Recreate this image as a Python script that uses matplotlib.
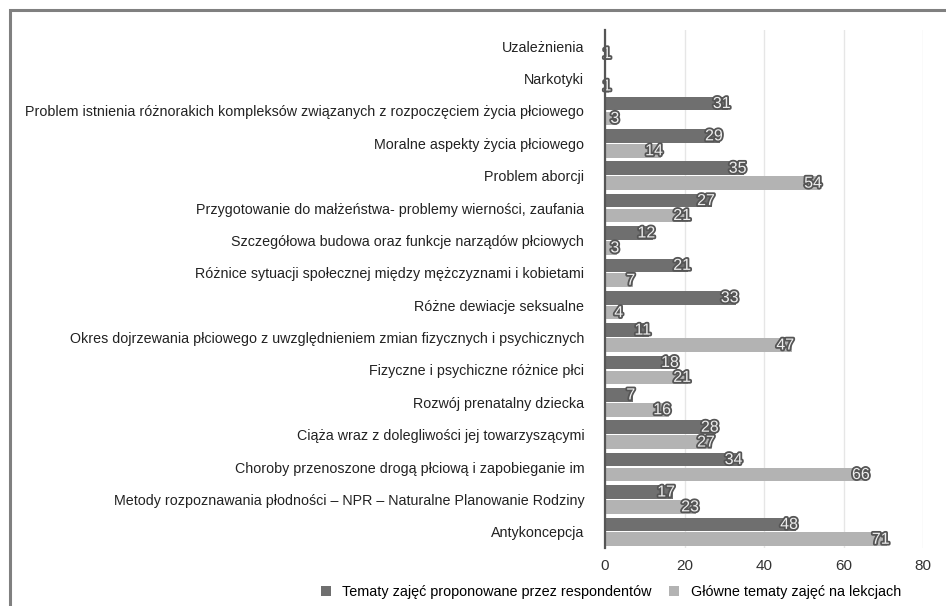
import numpy as np
import matplotlib.pyplot as plt
import matplotlib.patheffects as pe
from matplotlib.patches import Rectangle

plt.rcParams['font.family'] = ['Liberation Sans', 'DejaVu Sans']

# topics, from top to bottom
categories = [
    "Uzależnienia",
    "Narkotyki",
    "Problem istnienia różnorakich kompleksów związanych z rozpoczęciem życia płciowego",
    "Moralne aspekty życia płciowego",
    "Problem aborcji",
    "Przygotowanie do małżeństwa- problemy wierności, zaufania",
    "Szczegółowa budowa oraz funkcje narządów płciowych",
    "Różnice sytuacji społecznej między mężczyznami i kobietami",
    "Różne dewiacje seksualne",
    "Okres dojrzewania płciowego z uwzględnieniem zmian fizycznych i psychicznych",
    "Fizyczne i psychiczne różnice płci",
    "Rozwój prenatalny dziecka",
    "Ciąża wraz z dolegliwości jej towarzyszącymi",
    "Choroby przenoszone drogą płciową i zapobieganie im",
    "Metody rozpoznawania płodności – NPR – Naturalne Planowanie Rodziny",
    "Antykoncepcja",
]
proposed = [0, 0, 31, 29, 35, 27, 12, 21, 33, 11, 18, 7, 28, 34, 17, 48]
taught = [1, 1, 3, 14, 54, 21, 3, 7, 4, 47, 21, 16, 27, 66, 23, 71]

series_names = ["Tematy zajęć proponowane przez respondentów",
                "Główne tematy zajęć na lekcjach"]
dark = "#6f6f6f"
light = "#b3b3b3"

fig = plt.figure(figsize=(9.46, 6.06), dpi=100)
ax = fig.add_axes([605 / 946, 1 - 548 / 606, 318 / 946, 518 / 606])

# outer frame
fig.patches.append(Rectangle((10 / 946, -0.1), 1.1, 1 - 10 / 606 + 0.1,
                             transform=fig.transFigure, fill=False,
                             edgecolor="#808080", linewidth=2.2))

y = np.arange(len(categories))
h = 0.42
off = 0.23
b1 = ax.barh(y - off, proposed, height=h, color=dark, zorder=3)
b2 = ax.barh(y + off, taught, height=h, color=light, zorder=3)

outline = [pe.withStroke(linewidth=2.6, foreground="#555555")]
for bars, vals in ((b1, proposed), (b2, taught)):
    for bar, v in zip(bars, vals):
        if v == 0:
            continue
        cy = bar.get_y() + bar.get_height() / 2
        ax.text(v + 0.6, cy, str(v), ha="right", va="center", fontsize=11.5,
                color="#eeeeee", path_effects=outline, zorder=4)

ax.set_xlim(0, 80)
ax.set_ylim(15.5, -0.5)
ax.set_xticks([0, 20, 40, 60, 80])
ax.set_yticks(y)
ax.set_yticklabels(categories, fontsize=10.3, color="#222222")
ax.tick_params(axis="y", length=0, pad=15)
ax.tick_params(axis="x", length=0, pad=8, labelsize=11, labelcolor="#333333")
ax.grid(axis="x", color="#e6e6e6", linewidth=1, zorder=0)
for s in ("top", "right", "bottom"):
    ax.spines[s].set_visible(False)
ax.spines["left"].set_color("#555555")
ax.spines["left"].set_linewidth(1.6)
ax.spines["left"].set_zorder(5)

fig.legend([b1, b2], series_names, loc="center", bbox_to_anchor=(611 / 946, 1 - 592 / 606),
           ncol=2, frameon=False, fontsize=10.4, handlelength=0.7, handleheight=0.7,
           columnspacing=1.2, handletextpad=0.8)

fig.savefig("out.png", dpi=100, facecolor="white")
